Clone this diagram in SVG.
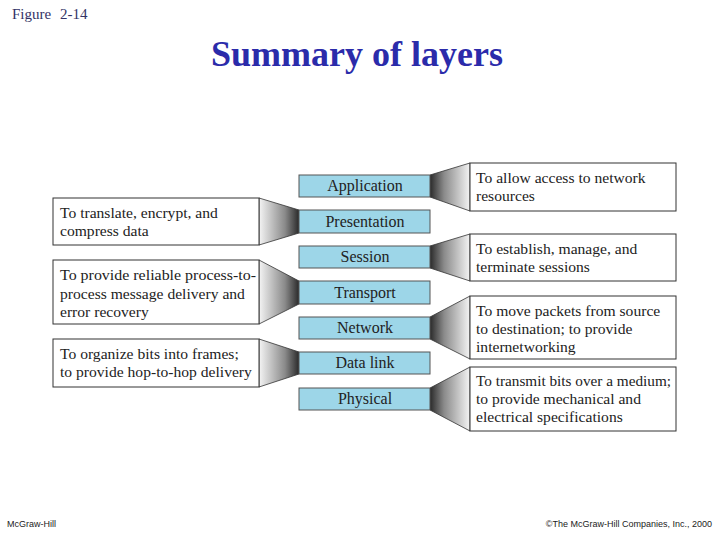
<svg xmlns="http://www.w3.org/2000/svg" width="720" height="540" viewBox="0 0 720 540">
<defs>
<linearGradient id="gR" x1="0" y1="0" x2="1" y2="0">
<stop offset="0" stop-color="#2a2a2a"/><stop offset="0.35" stop-color="#8a8a8a"/><stop offset="1" stop-color="#f4f4f4"/>
</linearGradient>
<linearGradient id="gL" x1="1" y1="0" x2="0" y2="0">
<stop offset="0" stop-color="#2a2a2a"/><stop offset="0.35" stop-color="#8a8a8a"/><stop offset="1" stop-color="#f4f4f4"/>
</linearGradient>
<style>
.layer{fill:#9dd6e8;stroke:#555;stroke-width:1}
.desc{fill:#fff;stroke:#333;stroke-width:1}
.cr{fill:url(#gR);stroke:#333;stroke-width:0.8}
.cl{fill:url(#gL);stroke:#333;stroke-width:0.8}
.lt{font-family:"Liberation Serif",serif;font-size:16px;fill:#222;text-anchor:middle}
.dt{font-family:"Liberation Serif",serif;font-size:15.6px;fill:#222}
</style>
</defs>
<rect width="720" height="540" fill="#fff"/>
<text x="12" y="19" font-family="Liberation Serif,serif" font-size="15" fill="#333366" word-spacing="5">Figure 2-14</text>
<text x="357" y="66" font-family="Liberation Serif,serif" font-size="36" font-weight="bold" fill="#2b2baa" text-anchor="middle">Summary of layers</text>

<g id="connectors">
<polygon class="cr" points="430,175 470,163 470,211 430,197"/>
<polygon class="cr" points="430,246 470,234 470,281 430,268"/>
<polygon class="cr" points="430,317 470,296 470,359 430,339"/>
<polygon class="cr" points="430,388 470,367 470,431 430,410"/>
<polygon class="cl" points="259,198 299,210 299,233 259,245"/>
<polygon class="cl" points="259,260 299,281 299,304 259,324"/>
<polygon class="cl" points="259,339 299,352 299,374 259,387"/>
</g>

<g id="application"><rect class="layer" x="299" y="175" width="131" height="22"/><text class="lt" x="365" y="191">Application</text></g>
<g id="presentation"><rect class="layer" x="299" y="210" width="131" height="23"/><text class="lt" x="365" y="227">Presentation</text></g>
<g id="session"><rect class="layer" x="299" y="246" width="131" height="22"/><text class="lt" x="365" y="262">Session</text></g>
<g id="transport"><rect class="layer" x="299" y="281" width="131" height="23"/><text class="lt" x="365" y="298">Transport</text></g>
<g id="network"><rect class="layer" x="299" y="317" width="131" height="22"/><text class="lt" x="365" y="333">Network</text></g>
<g id="datalink"><rect class="layer" x="299" y="352" width="131" height="22"/><text class="lt" x="365" y="368">Data link</text></g>
<g id="physical"><rect class="layer" x="299" y="388" width="131" height="22"/><text class="lt" x="365" y="404">Physical</text></g>

<g id="desc-application"><rect class="desc" x="470" y="163" width="206" height="48"/>
<text class="dt" x="476" y="183">To allow access to network</text><text class="dt" x="476" y="201">resources</text></g>
<g id="desc-session"><rect class="desc" x="470" y="234" width="206" height="47"/>
<text class="dt" x="476" y="254">To establish, manage, and</text><text class="dt" x="476" y="272">terminate sessions</text></g>
<g id="desc-network"><rect class="desc" x="470" y="296" width="206" height="63"/>
<text class="dt" x="476" y="316">To move packets from source</text><text class="dt" x="476" y="334">to destination; to provide</text><text class="dt" x="476" y="352">internetworking</text></g>
<g id="desc-physical"><rect class="desc" x="470" y="367" width="206" height="64"/>
<text class="dt" x="476" y="386" textLength="195" lengthAdjust="spacingAndGlyphs">To transmit bits over a medium;</text><text class="dt" x="476" y="404">to provide mechanical and</text><text class="dt" x="476" y="422">electrical specifications</text></g>
<g id="desc-presentation"><rect class="desc" x="53" y="198" width="206" height="47"/>
<text class="dt" x="60" y="218">To translate, encrypt, and</text><text class="dt" x="60" y="236">compress data</text></g>
<g id="desc-transport"><rect class="desc" x="53" y="260" width="206" height="64"/>
<text class="dt" x="60" y="280" textLength="196" lengthAdjust="spacingAndGlyphs">To provide reliable process-to-</text><text class="dt" x="60" y="299">process message delivery and</text><text class="dt" x="60" y="317">error recovery</text></g>
<g id="desc-datalink"><rect class="desc" x="53" y="339" width="206" height="48"/>
<text class="dt" x="60" y="359">To organize bits into frames;</text><text class="dt" x="60" y="377">to provide hop-to-hop delivery</text></g>

<text x="7" y="527" font-family="Liberation Sans,sans-serif" font-size="9" fill="#222">McGraw-Hill</text>
<text x="712" y="527" font-family="Liberation Sans,sans-serif" font-size="9" fill="#222" text-anchor="end">©The McGraw-Hill Companies, Inc., 2000</text>
</svg>
